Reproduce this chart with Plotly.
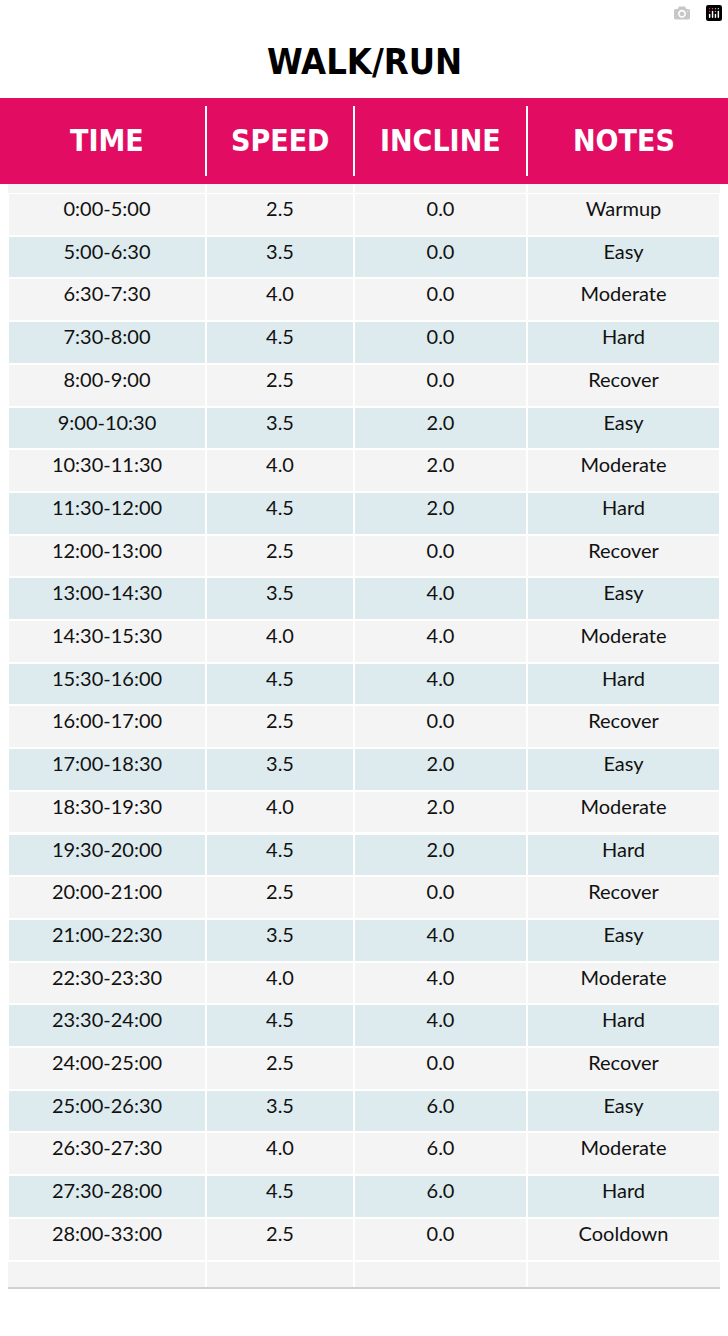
import plotly.graph_objects as go

headers = ['TIME', 'SPEED', 'INCLINE', 'NOTES']
times = ['0:00-5:00', '5:00-6:30', '6:30-7:30', '7:30-8:00', '8:00-9:00', '9:00-10:30',
         '10:30-11:30', '11:30-12:00', '12:00-13:00', '13:00-14:30', '14:30-15:30',
         '15:30-16:00', '16:00-17:00', '17:00-18:30', '18:30-19:30', '19:30-20:00',
         '20:00-21:00', '21:00-22:30', '22:30-23:30', '23:30-24:00', '24:00-25:00',
         '25:00-26:30', '26:30-27:30', '27:30-28:00', '28:00-33:00']
speeds = ['2.5', '3.5', '4.0', '4.5', '2.5', '3.5', '4.0', '4.5', '2.5', '3.5', '4.0', '4.5',
          '2.5', '3.5', '4.0', '4.5', '2.5', '3.5', '4.0', '4.5', '2.5', '3.5', '4.0', '4.5', '2.5']
inclines = ['0.0', '0.0', '0.0', '0.0', '0.0', '2.0', '2.0', '2.0', '0.0', '4.0', '4.0', '4.0',
            '0.0', '2.0', '2.0', '2.0', '0.0', '4.0', '4.0', '4.0', '0.0', '6.0', '6.0', '6.0', '0.0']
notes = ['Warmup', 'Easy', 'Moderate', 'Hard', 'Recover', 'Easy', 'Moderate', 'Hard', 'Recover',
         'Easy', 'Moderate', 'Hard', 'Recover', 'Easy', 'Moderate', 'Hard', 'Recover', 'Easy',
         'Moderate', 'Hard', 'Recover', 'Easy', 'Moderate', 'Hard', 'Cooldown']

W, H = 728, 1336
PINK = '#E20D62'
GRAY = '#F4F4F4'
BLUE = '#DDEBEE'
HEAD_FONT = 'DejaVu Sans Condensed'
col_edges = [8, 206, 354, 527, 720]
row_h = 42.7
top = 193

fills = [GRAY if i % 2 == 0 else BLUE for i in range(len(times))]

fig = go.Figure(go.Table(
    domain=dict(x=[8 / W, 720 / W], y=[0, 1 - (top - 1) / H]),
    columnwidth=[col_edges[i + 1] - col_edges[i] for i in range(4)],
    header=dict(values=['', '', '', ''], height=1, fill_color=GRAY, line=dict(width=0)),
    cells=dict(values=[times, speeds, inclines, notes], height=row_h,
               fill_color=[fills] * 4, line=dict(color='white', width=2),
               align='center', font=dict(family='Lato', size=20, color='#111111')),
))

shapes = [
    # header band
    dict(type='rect', xref='paper', yref='paper', x0=0, x1=1, y0=1 - 184 / H, y1=1 - 98 / H,
         fillcolor=PINK, line=dict(width=0), layer='above'),
    # strip above first row
    dict(type='rect', xref='paper', yref='paper', x0=8 / W, x1=720 / W, y0=1 - 194 / H, y1=1 - 184 / H,
         fillcolor=GRAY, line=dict(width=0), layer='below'),
    # extended last row
    dict(type='rect', xref='paper', yref='paper', x0=8 / W, x1=720 / W, y0=1 - 1287 / H, y1=1 - 1250 / H,
         fillcolor=GRAY, line=dict(width=0), layer='below'),
    dict(type='line', xref='paper', yref='paper', x0=8 / W, x1=720 / W, y0=1 - 1288 / H, y1=1 - 1288 / H,
         line=dict(color='#D0D0D0', width=2), layer='below'),
]
for x in col_edges[1:-1]:
    shapes.append(dict(type='line', xref='paper', yref='paper', x0=x / W, x1=x / W,
                       y0=1 - 176 / H, y1=1 - 106 / H, line=dict(color='white', width=2), layer='above'))
    shapes.append(dict(type='line', xref='paper', yref='paper', x0=x / W, x1=x / W,
                       y0=1 - 1287 / H, y1=1 - 184 / H, line=dict(color='white', width=2), layer='below'))

annotations = [dict(text='<b>WALK/RUN</b>', x=0.5, y=1 - 62 / H, xref='paper', yref='paper',
                    xanchor='center', yanchor='middle', showarrow=False,
                    font=dict(family=HEAD_FONT, size=36, color='black'))]
for i, h in enumerate(headers):
    annotations.append(dict(text='<b>' + h + '</b>', x=(col_edges[i] + col_edges[i + 1]) / 2 / W,
                            y=1 - 141 / H, xref='paper', yref='paper', showarrow=False,
                            xanchor='center', yanchor='middle',
                            font=dict(family=HEAD_FONT, size=30, color='white')))

fig.update_layout(width=W, height=H, margin=dict(l=0, r=0, t=0, b=0),
                  paper_bgcolor='white', shapes=shapes, annotations=annotations)
fig.write_html('out.html', post_script="document.body.style.margin='0';")
